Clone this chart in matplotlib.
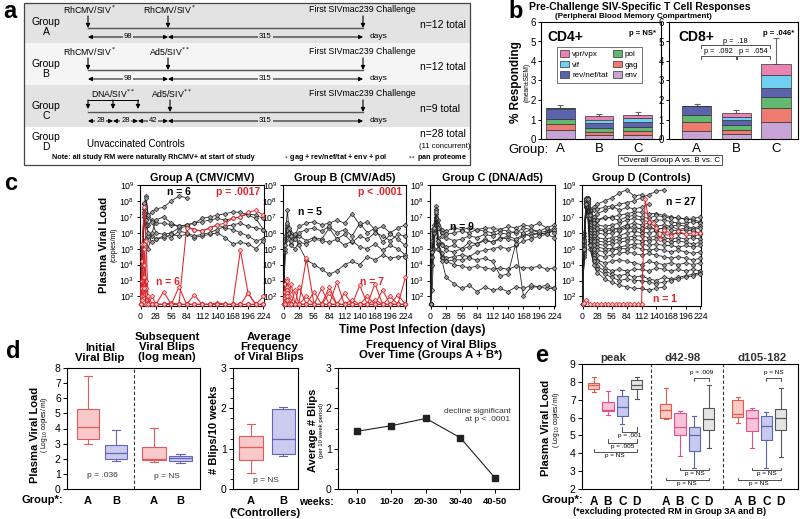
import matplotlib.pyplot as plt
import numpy as np
from matplotlib.patches import Rectangle, Patch

plt.rcParams['font.family'] = ['Liberation Sans', 'DejaVu Sans']
plt.rcParams['axes.linewidth'] = 0.8
plt.rcParams['xtick.major.width'] = 0.7
plt.rcParams['ytick.major.width'] = 0.7
plt.rcParams['xtick.major.size'] = 3
plt.rcParams['ytick.major.size'] = 3

# ---------------- panel b data ----------------
b_groups = ['A', 'B', 'C']
b_genes = ['env', 'gag', 'pol', 'rev/nef/tat', 'vif', 'vpr/vpx']
b_colors = ['#c7a3d6', '#ee7b70', '#62b86e', '#5b63ac', '#6fd0f2', '#ea82b4']
cd4_stack = [[0.45, 0.20, 0.20],   # env
             [0.30, 0.15, 0.22],   # gag
             [0.30, 0.20, 0.20],   # pol
             [0.50, 0.25, 0.25],   # rev/nef/tat
             [0.02, 0.20, 0.20],   # vif
             [0.02, 0.18, 0.18]]   # vpr/vpx
cd4_err_top = [1.75, 1.28, 1.37]
cd8_stack = [[0.40, 0.25, 0.87],
             [0.45, 0.20, 0.70],
             [0.40, 0.25, 0.57],
             [0.42, 0.30, 0.47],
             [0.02, 0.15, 0.65],
             [0.02, 0.18, 0.60]]
cd8_err_top = [1.82, 1.50, 5.20]

# ---------------- panel c data (log10 copies/ml) ----------------
c_t = [0, 3, 7, 10, 14, 21, 28, 42, 56, 70, 84, 98, 112, 126, 140, 154, 168, 182, 196, 210, 224]
grpA_black = [
    [1.5, 5.0, 7.8, 7.2, 6.5, 6.8, 6.6, 6.6, 6.5, 6.4, 6.5, 6.6, 6.7, 6.8, 6.9, 6.8, 6.9, 7.0, 7.2, 7.1, 6.9],
    [1.5, 4.5, 7.5, 8.3, 7.0, 6.7, 6.0, 5.9, 6.0, 6.3, 6.4, 6.2, 6.1, 6.3, 6.5, 6.3, 6.2, 6.0, 5.8, 5.5, 5.6],
    [1.5, 5.2, 7.9, 8.2, 7.1, 7.3, 7.5, 7.6, 8.0, 8.3, 8.2],
    [1.5, 4.8, 7.3, 6.5, 5.8, 5.4, 5.6, 5.7, 5.9, 5.8, 5.9, 5.7, 5.8, 5.9, 6.0, 5.7, 5.3, 5.4, 5.3, 5.0, 5.5],
    [1.5, 3.9, 7.0, 6.8, 6.0, 5.8, 5.6, 5.8, 5.7, 6.1, 6.0, 5.8, 5.9, 6.0, 6.2, 6.4, 6.5, 6.6, 6.4, 6.3, 6.2],
    [1.5, 4.0, 7.2, 5.6, 5.0, 6.0, 6.8, 7.0, 6.6, 6.4, 6.5, 6.6, 6.9, 7.0, 7.1, 7.2, 7.3, 7.3, 7.1, 6.9, 6.2],
]
grpA_red = [
    [1.5, 5.3, 7.6, 5.5, 1.5, 2.0, 1.5, 1.5, 1.5, 1.5, 6.3, 6.2, 6.1, 6.3, 6.5, 6.6, 6.9, 7.0, 7.3, 7.4, 7.1],
    [1.5, 4.2, 5.3, 3.0, 1.5, 1.5, 1.5, 2.3, 1.5, 2.6, 1.5, 1.5, 1.5, 1.5, 1.5, 1.5, 1.5, 4.9, 2.2, 1.5, 1.5],
    [1.5, 3.0, 5.0, 2.5, 2.0, 1.5, 1.5, 1.5, 1.5, 1.5, 1.5, 2.1, 1.5, 1.5, 1.6, 1.5, 1.5, 1.5, 2.2, 1.5, 2.0],
    [1.5, 2.5, 4.0, 1.8, 1.5, 1.5, 1.5, 1.5, 1.5, 1.5, 1.5, 1.5, 1.5, 1.5, 1.5, 1.5, 1.5, 1.5, 1.5, 1.5, 1.5],
    [1.5, 2.0, 3.2, 1.5, 1.5, 1.5, 1.5, 1.5, 1.6, 1.5, 1.5, 1.5, 1.5, 1.5, 1.5, 1.5, 1.5, 1.5, 1.5, 1.5, 1.5],
    [1.5, 1.8, 2.5, 1.5, 1.5, 1.5, 1.5, 1.5, 1.5, 1.5, 1.5, 1.5, 1.5, 1.5, 1.5, 1.5, 1.5, 1.5, 1.5, 1.5, 1.5],
]
grpB_black = [
    [1.5, 5.8, 7.4, 6.2, 6.0, 5.8, 6.4, 6.6, 6.7, 6.5, 6.6, 6.8, 6.6, 7.2, 6.5, 6.7, 6.2, 6.4, 6.0, 6.3, 6.5],
    [1.5, 5.5, 6.3, 5.8, 5.3, 5.6, 5.8, 5.5, 5.7, 5.6, 6.3, 5.6, 5.9, 5.4, 5.8, 5.6, 6.0, 5.8, 5.5, 5.9, 5.8],
    [1.5, 4.8, 6.5, 5.6, 5.2, 5.0, 5.4, 5.3, 5.6, 5.5, 5.4, 5.6, 5.2, 5.5, 5.1, 5.0, 5.3, 4.9, 5.2, 5.0, 4.6],
    [1.5, 5.0, 6.2, 6.0, 5.5, 5.9, 5.2, 4.3, 4.0, 3.7, 3.4, 3.6, 4.0, 4.2, 4.0, 4.5, 4.3, 4.6, 4.4, 4.5, 4.5],
    [1.5, 5.2, 6.6, 6.3, 5.8, 5.6, 6.0, 6.2, 6.3, 6.1, 6.4, 6.0, 6.2, 5.8, 6.6, 6.0, 6.3, 5.4, 5.9, 5.6, 5.2],
]
grpB_red = [
    [1.5, 2.8, 3.1, 2.3, 1.5, 1.5, 1.5, 4.4, 1.5, 2.5, 1.5, 2.9, 1.5, 1.5, 2.7, 1.5, 2.8, 1.5, 2.0, 1.5, 3.2],
    [1.5, 2.3, 3.0, 2.0, 2.8, 1.5, 2.6, 1.5, 1.5, 1.5, 2.6, 1.5, 1.5, 1.5, 1.5, 1.5, 1.5, 2.4, 1.5, 1.5, 1.5],
    [1.5, 2.0, 2.6, 1.8, 1.5, 2.4, 1.5, 1.5, 2.3, 1.5, 1.5, 1.5, 2.2, 1.5, 1.5, 2.0, 1.5, 1.5, 1.5, 2.1, 1.5],
    [1.5, 1.9, 2.4, 1.5, 1.5, 1.5, 1.5, 2.0, 1.5, 1.5, 2.2, 1.5, 1.5, 1.5, 1.5, 1.5, 1.8, 1.5, 1.5, 1.5, 1.5],
    [1.5, 1.7, 2.2, 1.5, 1.5, 1.5, 1.5, 1.5, 1.5, 1.5, 1.5, 1.5, 1.5, 1.8, 1.5, 1.5, 1.5, 1.5, 1.5, 1.5, 1.5],
    [1.5, 1.6, 2.0, 1.5, 1.5, 1.5, 1.5, 1.5, 1.5, 1.5, 1.5, 1.5, 1.5, 1.5, 1.5, 1.5, 1.5, 1.5, 1.5, 1.5, 1.5],
    [1.5, 1.5, 1.8, 1.5, 1.5, 1.5, 1.5, 1.5, 1.5, 1.5, 1.5, 1.5, 1.5, 1.5, 1.5, 1.5, 1.5, 1.5, 1.5, 1.5, 1.5],
]
grpC_black = [
    [1.5, 6.2, 5.0, 7.7, 6.8, 6.2, 6.1, 6.3, 6.2, 6.3, 6.2, 6.3, 6.3, 6.2, 6.4, 6.3, 6.5, 6.4, 6.6, 6.3, 6.5],
    [1.5, 2.4, 6.3, 7.2, 6.5, 6.0, 5.9, 6.0, 6.1, 6.0, 6.2, 6.1, 6.0, 6.2, 6.1, 6.0, 6.3, 6.2, 6.0, 6.1, 6.3],
    [1.5, 5.0, 6.5, 7.5, 5.7, 5.3, 5.1, 5.2, 5.0, 5.4, 5.3, 5.6, 5.4, 5.7, 5.6, 5.5, 5.8, 6.0, 5.9, 6.0, 6.1],
    [1.5, 4.5, 6.0, 6.8, 5.5, 5.2, 4.9, 4.8, 5.0, 5.1, 5.3, 5.5, 5.4, 5.6, 5.8, 5.6, 5.9, 5.8, 6.0, 5.9, 5.7],
    [1.5, 4.0, 6.1, 7.0, 5.3, 4.7, 4.4, 4.5, 4.6, 4.5, 4.8, 4.9, 5.0, 5.1, 5.0, 5.2, 5.5, 5.6, 5.8, 5.9, 6.2],
    [1.5, 5.5, 6.0, 7.4, 6.3, 5.8, 5.7, 5.5, 5.6, 5.8, 5.7, 5.9, 5.8, 6.0, 5.9, 6.1, 6.0, 6.2, 6.1, 6.3, 6.0],
    [1.5, 5.0, 6.2, 6.5, 5.0, 4.5, 4.2, 4.0, 3.9, 3.8, 3.9, 3.8, 3.7, 3.8, 3.7, 3.9, 3.8, 3.8, 3.9, 3.7, 3.8],
    [1.5, 4.5, 6.0, 6.9, 5.0, 4.4, 4.2, 4.3, 4.3, 4.4, 4.3, 4.4, 4.2, 3.3, 3.4, 5.3, 2.0, 2.6, 2.6, 2.5, 2.5],
    [1.5, 4.8, 6.3, 7.3, 5.5, 4.2, 3.2, 2.8, 2.5, 2.7, 2.3, 2.6, 2.4, 2.5, 2.3, 2.6, 2.5, 2.7, 2.6, 2.7, 2.5],
]
grpD_black = [
    [1.5, 5.5, 8.0, 8.2, 7.5, 7.6, 7.8, 8.0, 8.2, 8.5, 8.7, 8.3, 8.4],
    [1.5, 5.0, 7.8, 8.1, 7.3, 7.0, 7.2, 7.4, 7.6, 7.8, 7.9, 8.0, 8.2, 8.4, 8.6, 8.7],
    [1.5, 6.0, 8.1, 8.0, 7.4, 7.0, 6.8, 6.9, 7.0, 7.1, 7.2, 7.3, 7.3, 7.2, 7.2, 7.1, 7.0, 6.9, 6.9, 6.8, 6.7],
    [1.5, 5.2, 7.9, 8.2, 7.2, 6.8, 6.5, 6.4, 6.5, 6.6, 6.8, 6.9, 6.8, 6.7, 6.8, 6.8, 6.7, 6.6, 6.6, 6.7, 6.6],
    [1.5, 4.8, 8.0, 8.1, 7.0, 6.4, 6.2, 6.1, 6.2, 6.3, 6.5, 6.6, 6.5, 6.6, 6.4, 6.5, 6.4, 6.5, 6.4, 6.3, 6.4],
    [1.5, 5.8, 8.2, 7.8, 6.8, 6.2, 6.0, 5.9, 6.0, 6.1, 6.3, 6.4, 6.2, 6.3, 6.2, 6.3, 6.2, 6.1, 6.2, 6.1, 6.0],
    [1.5, 4.5, 7.6, 8.0, 6.6, 6.0, 5.7, 5.6, 5.7, 5.8, 6.0, 6.1, 6.0, 6.0, 6.1, 6.0, 5.9, 6.0, 5.9, 5.8, 5.9],
    [1.5, 5.0, 7.9, 7.9, 6.5, 5.8, 5.5, 5.4, 5.5, 5.6, 5.7, 5.8, 5.8, 5.7, 5.8, 5.7, 5.6, 5.7, 5.6, 5.7, 5.6],
    [1.5, 5.6, 8.0, 7.7, 6.3, 5.6, 5.3, 5.2, 5.3, 5.4, 5.5, 5.6, 5.5, 5.5, 5.6, 5.5, 5.4, 5.5, 5.4, 5.3, 5.4],
    [1.5, 4.9, 7.8, 7.8, 6.2, 5.5, 5.1, 5.0, 5.0, 5.1, 5.2, 5.3, 5.3, 5.2, 5.3, 5.2, 5.2, 5.1, 5.2, 5.1, 5.2],
    [1.5, 5.3, 8.1, 7.6, 6.0, 5.2, 4.9, 4.8, 4.9, 5.0, 5.0, 5.1, 5.0, 4.9, 5.0, 4.9, 4.8, 4.9, 4.8, 4.7, 4.8],
    [1.5, 5.1, 7.7, 7.5, 5.8, 5.0, 4.6, 4.5, 4.6, 4.7, 4.8, 4.7, 4.6, 4.7, 4.6, 4.5, 4.4, 4.5, 4.4, 4.3, 4.4],
    [1.5, 4.6, 7.9, 7.4, 5.6, 4.7, 4.3, 4.1, 4.2, 4.3, 4.2, 4.1, 4.0, 4.2, 4.1, 4.0, 4.1, 4.0, 4.1, 4.0, 4.1],
    [1.5, 5.4, 8.0, 7.3, 5.5, 4.6, 4.2, 3.8, 3.6, 3.7, 3.6, 3.7, 3.7, 3.6, 3.8, 3.7, 3.6, 3.7, 3.6, 3.7, 3.6],
    [1.5, 4.7, 7.8, 7.2, 5.3, 4.4, 3.9, 3.6, 3.4, 3.3, 3.4, 3.2, 3.3, 3.1, 3.0, 3.2, 3.1, 3.2, 3.3, 3.4, 3.5],
    [1.5, 5.0, 7.6, 7.0, 5.0, 4.2, 3.7, 3.4, 3.2, 3.0, 3.1, 3.0, 3.0, 2.9, 2.8, 2.9, 3.0, 3.1, 3.2, 3.3, 3.4],
    [1.5, 4.9, 7.9, 7.1, 5.2, 4.0, 3.5, 3.1, 2.9, 2.7, 2.6, 2.5, 2.5, 2.4, 2.5, 2.6],
    [1.5, 5.2, 8.0, 7.9, 7.2, 7.4, 7.5, 7.6, 7.7, 7.4, 7.6, 7.5, 7.6, 7.8],
    [1.5, 5.5, 8.1, 8.0, 6.9, 6.6, 6.8, 7.0, 6.9, 6.8, 7.0, 7.1, 7.0, 6.9, 7.1, 7.0, 6.9, 7.0, 6.8, 6.9, 7.0],
    [1.5, 5.0, 7.8, 8.1, 7.1, 6.6, 6.3, 6.2, 6.3, 6.2, 6.4, 6.2, 6.3, 6.4, 6.2, 6.3, 6.4, 6.2, 6.3, 6.2, 6.3],
]
grpD_red_t = [0, 3, 7, 14, 21, 28, 35, 42, 49, 56, 63, 70, 77, 84, 91, 98, 105, 112,
              119, 126, 133, 140, 147, 154, 161, 168, 182, 196, 210, 224]
grpD_red = [1.5, 1.6, 1.8, 1.5, 1.5, 1.5, 1.5, 1.5, 1.5, 1.5, 1.5, 1.5, 1.5, 1.5, 1.5, 1.5, 1.5, 1.5,
            8.1, 6.7, 6.6, 6.3, 5.6, 6.2, 6.0, 5.8, 6.1, 5.9, 6.0, 6.0]

# ---------------- panel d data (box stats: low, q1, median, q3, high) ----------------
d_blip_stats = [[2.95, 3.28, 4.10, 5.30, 7.50],   # initial A
                [1.85, 1.98, 2.35, 2.93, 3.90],   # initial B
                [1.80, 1.90, 2.00, 2.75, 4.05],   # subsequent A
                [1.75, 1.88, 2.02, 2.15, 2.30]]   # subsequent B
d_freq_stats = [[0.40, 0.73, 1.03, 1.32, 1.62],
                [0.82, 0.87, 1.23, 1.98, 2.03]]
d_weeks = ['0-10', '10-20', '20-30', '30-40', '40-50']
d_avg_blips = [1.43, 1.57, 1.75, 1.27, 0.28]

# ---------------- panel e data ----------------
e_periods = ['peak', 'd42-98', 'd105-182']
e_groups = ['A', 'B', 'C', 'D']
e_stats = [[[7.45, 7.60, 7.80, 7.95, 8.30], [6.15, 6.35, 6.45, 6.85, 7.50],
            [5.65, 6.10, 6.60, 7.20, 7.55], [7.05, 7.60, 7.85, 8.10, 8.25]],
           [[5.90, 6.00, 6.40, 6.75, 7.65], [3.85, 5.00, 5.50, 6.25, 6.35],
            [3.15, 4.15, 5.00, 5.45, 6.10], [4.30, 5.30, 5.90, 6.55, 7.80]],
           [[5.70, 6.05, 6.20, 7.00, 7.15], [4.30, 5.25, 6.00, 6.40, 6.55],
            [3.20, 4.75, 5.55, 6.10, 6.30], [3.80, 5.30, 6.00, 6.50, 7.65]]]

W, H = 800, 519
fig = plt.figure(figsize=(8, 5.19), dpi=100)


def pxax(x0, y0, x1, y1, **kw):
    return fig.add_axes([x0 / W, 1 - y1 / H, (x1 - x0) / W, (y1 - y0) / H], **kw)


ov = pxax(0, 0, W, H)
ov.set_xlim(0, W)
ov.set_ylim(H, 0)
ov.axis('off')


def down_arrow(x, y0, y1):
    ov.annotate('', xy=(x, y1), xytext=(x, y0),
                arrowprops=dict(arrowstyle='-|>', color='k', lw=0.8, mutation_scale=6,
                                shrinkA=0, shrinkB=0))


def dim_arrow(x0, x1, y, label, bg):
    ov.annotate('', xy=(x1, y), xytext=(x0, y),
                arrowprops=dict(arrowstyle='<|-|>', color='k', lw=0.7, mutation_scale=6,
                                shrinkA=0, shrinkB=0))
    ov.text((x0 + x1) / 2, y, label, fontsize=5.5, ha='center', va='center',
            bbox=dict(facecolor=bg, edgecolor='none', pad=0.6))


# ================= panel a =================
ov.text(3, 12, 'a', fontsize=17, fontweight='bold', va='center')
band_y = [3, 43, 85, 127, 165]
band_cols = ['#e3e3e3', '#f5f5f5', '#e3e3e3', '#ffffff']
for i in range(4):
    ov.add_patch(Rectangle((24, band_y[i]), 446, band_y[i + 1] - band_y[i],
                           facecolor=band_cols[i], edgecolor='none'))
ov.add_patch(Rectangle((24, 3), 446, 162, fill=False, edgecolor='#444', lw=0.9))

for g, yc in zip(['A', 'B', 'C', 'D'], [27, 69, 111, 142]):
    ov.text(46, yc, 'Group\n' + g, fontsize=7.5, ha='center', va='center',
            linespacing=1.05)

rows_top = [3, 45, 87]
vacc = [[('RhCMV/SIV$^*$', 88), ('RhCMV/SIV$^*$', 168)],
        [('RhCMV/SIV$^*$', 88), ('Ad5/SIV$^{**}$', 168)],
        [('Ad5/SIV$^{**}$', 170)]]
for i in range(3):
    y0 = rows_top[i]
    for lab, x in vacc[i]:
        ov.text(x + 2, y0 + 7, lab, fontsize=6.3, ha='center', va='center')
    ov.text(362, y0 + 7, 'First SIVmac239 Challenge', fontsize=6.3, ha='center', va='center')
    ov.plot([88, 363], [y0 + 25, y0 + 25], color='#555', lw=1.0)
    for _, x in vacc[i]:
        down_arrow(x, y0 + 13, y0 + 25)
    down_arrow(363, y0 + 13, y0 + 25)
    ov.text(370, y0 + 34, 'days', fontsize=6, va='center')
    ov.text(420, y0 + 22, ['n=12 total', 'n=12 total', 'n=9 total'][i], fontsize=7.5,
            va='center')
dim_arrow(88, 168, 37, '98', band_cols[0])
dim_arrow(168, 363, 37, '315', band_cols[0])
dim_arrow(88, 168, 79, '98', band_cols[1])
dim_arrow(168, 363, 79, '315', band_cols[1])
# group C DNA primes
ov.text(113, 94, 'DNA/SIV$^{**}$', fontsize=6.3, ha='center', va='center')
ov.plot([88, 138], [100, 100], color='k', lw=0.7)
for x in [88, 113, 138]:
    down_arrow(x, 100, 109)
dim_arrow(88, 113, 121, '28', band_cols[2])
dim_arrow(113, 138, 121, '28', band_cols[2])
dim_arrow(138, 168, 121, '42', band_cols[2])
dim_arrow(168, 363, 121, '315', band_cols[2])
# group D
ov.text(87, 144, 'Unvaccinated Controls', fontsize=7, va='center')
ov.text(443, 134, 'n=28 total', fontsize=7.5, ha='center', va='center')
ov.text(445, 146, '(11 concurrent)', fontsize=5.5, ha='center', va='center')
ov.text(52, 157.5, 'Note: all study RM were naturally RhCMV+ at start of study', fontsize=5.2,
        fontweight='bold', va='center')
ov.text(283, 157.5, '$_*$ gag + rev/nef/tat + env + pol', fontsize=5.2, fontweight='bold',
        va='center')
ov.text(408, 157.5, '$_{**}$ pan proteome', fontsize=5.2, fontweight='bold', va='center')

# ================= panel b =================
ov.text(508, 12, 'b', fontsize=17, fontweight='bold', va='center')
ov.text(640, 6.5, 'Pre-Challenge SIV-Specific T Cell Responses', fontsize=7.5,
        fontweight='bold', ha='center', va='center')
ov.text(633, 16, '(Peripheral Blood Memory Compartment)', fontsize=5.8, fontweight='bold',
        ha='center', va='center')
ax4 = pxax(541, 22, 661, 139)
ax8 = pxax(669, 22, 798, 139)
xb = np.arange(3)
for ax, stack, err, xl in [(ax4, cd4_stack, cd4_err_top, (-0.5, 2.6)),
                           (ax8, cd8_stack, cd8_err_top, (-0.7, 2.55))]:
    bottom = np.zeros(3)
    for vals, col in zip(stack, b_colors):
        ax.bar(xb, vals, 0.74, bottom=bottom, color=col, edgecolor='#333', lw=0.5, zorder=2)
        bottom += np.array(vals)
    ax.errorbar(xb, bottom, yerr=[np.zeros(3), np.array(err) - bottom], fmt='none',
                ecolor='#666', elinewidth=0.8, capsize=2.2, capthick=0.8, zorder=1)
    ax.set_xlim(*xl)
    ax.set_ylim(0, 6)
    ax.set_yticks(range(7))
    ax.tick_params(axis='y', labelsize=7, pad=1, length=2.5)
    ax.set_xticks(xb)
    ax.set_xticklabels(b_groups, fontsize=9.5)
    ax.tick_params(axis='x', length=0, pad=3)
ax4.text(0.05, 0.93, 'CD4+', transform=ax4.transAxes, fontsize=10, fontweight='bold',
         va='top')
ax4.text(0.96, 0.93, 'p = NS*', transform=ax4.transAxes, fontsize=5.5, fontweight='bold',
         va='top', ha='right')
ax8.text(0.07, 0.93, 'CD8+', transform=ax8.transAxes, fontsize=10, fontweight='bold',
         va='top')
ax8.text(0.97, 0.93, 'p = .046*', transform=ax8.transAxes, fontsize=5.5, fontweight='bold',
         va='top', ha='right')


def bracket(ax, x0, x1, y, tick, label, ty, fs):
    ax.plot([x0, x0, x1, x1], [y + tick, y, y, y + tick], color='#333', lw=0.6,
            clip_on=False)
    ax.text((x0 + x1) / 2, ty, label, fontsize=fs, ha='center', va='center', clip_on=False)


bracket(ax8, 0.1, 1.85, 4.8, -0.15, 'p =  .18', 5.0, 5.3)
bracket(ax8, 0.1, 0.98, 4.25, -0.15, 'p =  .092', 4.5, 5.3)
bracket(ax8, 1.02, 1.85, 4.25, -0.15, 'p =  .054', 4.5, 5.3)

handles = [Patch(facecolor=b_colors[i], edgecolor='#333', lw=0.5) for i in [5, 4, 3, 2, 1, 0]]
leg = ax4.legend(handles, [b_genes[i] for i in [5, 4, 3, 2, 1, 0]], ncol=2, fontsize=5.8,
                 loc='upper left', bbox_to_anchor=(0.13, 0.79), frameon=True,
                 fancybox=False, handlelength=1.1, handleheight=0.9, columnspacing=0.6,
                 handletextpad=0.4, labelspacing=0.3, borderpad=0.45, borderaxespad=0)
leg.get_frame().set_edgecolor('#333')
leg.get_frame().set_linewidth(0.6)
ov.text(516, 82, '% Responding', rotation=90, fontsize=8.5, fontweight='bold',
        ha='center', va='center')
ov.text(527, 82, '(mean±SEM)', rotation=90, fontsize=4.8, ha='center', va='center')
ov.text(508, 150, 'Group:', fontsize=9.5, va='center')
ov.text(670, 160, '*Overall Group A vs. B vs. C', fontsize=5.8, ha='center', va='center',
        bbox=dict(facecolor='white', edgecolor='#333', lw=0.6, pad=1.2))

# ================= panel c =================
ov.text(4, 183, 'c', fontsize=17, fontweight='bold', va='center')
c_axes = [pxax(140, 185, 264, 306), pxax(283, 185, 406, 306),
          pxax(430, 185, 555, 306), pxax(582, 185, 701, 306)]
c_titles = ['Group A (CMV/CMV)', 'Group B (CMV/Ad5)', 'Group C (DNA/Ad5)',
            'Group D (Controls)']
c_black = [grpA_black, grpB_black, grpC_black, grpD_black]
c_red = [grpA_red, grpB_red, [], []]
RED = '#e0242b'
for ax, ttl, blk, red in zip(c_axes, c_titles, c_black, c_red):
    for v in blk:
        ax.plot(c_t[:len(v)], 10 ** np.array(v), color='#222', lw=0.6, marker='D', ms=2.4,
                mfc='#9c9c9c', mec='#222', mew=0.45, clip_on=False, zorder=3)
    for v in red:
        ax.plot(c_t[:len(v)], 10 ** np.array(v), color=RED, lw=0.75, marker='D', ms=2.4,
                mfc='#f6c4c4', mec=RED, mew=0.5, clip_on=False, zorder=4)
    ax.set_yscale('log')
    ax.set_ylim(10 ** 1.4, 1e9)
    ax.set_yticks([10 ** k for k in range(2, 10)])
    ax.yaxis.set_minor_locator(plt.NullLocator())
    ax.set_xlim(-1, 225)
    ax.set_xticks(range(0, 225, 28))
    ax.tick_params(labelsize=6.3, pad=1.5, length=2.5)
    ax.set_title(ttl, fontsize=7.8, fontweight='bold', pad=3)
c_axes[3].plot(grpD_red_t, 10 ** np.array(grpD_red), color=RED, lw=0.75, marker='D', ms=2.4,
               mfc='#f6c4c4', mec=RED, mew=0.5, clip_on=False, zorder=4)
c_axes[0].text(0.22, 0.94, 'n = 6', transform=c_axes[0].transAxes, fontsize=7.5,
               fontweight='bold', va='center')
c_axes[0].text(0.97, 0.94, 'p = .0017', transform=c_axes[0].transAxes, fontsize=7.5,
               fontweight='bold', color=RED, ha='right', va='center')
c_axes[0].text(0.13, 0.2, 'n = 6', transform=c_axes[0].transAxes, fontsize=7.5,
               fontweight='bold', color=RED, va='center')
c_axes[1].text(0.12, 0.78, 'n = 5', transform=c_axes[1].transAxes, fontsize=7.5,
               fontweight='bold', va='center')
c_axes[1].text(0.97, 0.94, 'p < .0001', transform=c_axes[1].transAxes, fontsize=7.5,
               fontweight='bold', color=RED, ha='right', va='center')
c_axes[1].text(0.63, 0.2, 'n = 7', transform=c_axes[1].transAxes, fontsize=7.5,
               fontweight='bold', color=RED, va='center')
c_axes[2].text(0.16, 0.65, 'n = 9', transform=c_axes[2].transAxes, fontsize=7.5,
               fontweight='bold', va='center')
c_axes[3].text(0.96, 0.86, 'n = 27', transform=c_axes[3].transAxes, fontsize=7.5,
               fontweight='bold', ha='right', va='center')
c_axes[3].text(0.6, 0.06, 'n = 1', transform=c_axes[3].transAxes, fontsize=7.5,
               fontweight='bold', color=RED, va='center')
ov.text(104, 245, 'Plasma Viral Load', rotation=90, fontsize=8, fontweight='bold',
        ha='center', va='center')
ov.text(114, 245, '(copies/ml)', rotation=90, fontsize=5, ha='center', va='center')
ov.text(412, 330, 'Time Post Infection (days)', fontsize=8.5, fontweight='bold',
        ha='center', va='center')


# ================= boxes helper =================
def draw_box(ax, stats, pos, width, face, edge):
    s = dict(whislo=stats[0], q1=stats[1], med=stats[2], q3=stats[3], whishi=stats[4],
             fliers=[])
    ax.bxp([s], positions=[pos], widths=width, patch_artist=True, showfliers=False,
           boxprops=dict(facecolor=face, edgecolor=edge, lw=0.8),
           medianprops=dict(color=edge, lw=0.9),
           whiskerprops=dict(color=edge, lw=0.8),
           capprops=dict(color=edge, lw=0.8), capwidths=width * 0.35)


D_COLS = [('#f9c9c9', '#e05b60'), ('#cbcbef', '#6565b7')]

# ================= panel d =================
ov.text(6, 352, 'd', fontsize=17, fontweight='bold', va='center')
d1 = pxax(67, 368, 200, 489)
d1_pos = [0.75, 1.75, 3.1, 4.05]
for k, st in enumerate(d_blip_stats):
    draw_box(d1, st, d1_pos[k], 0.78 if k < 2 else 0.85, *D_COLS[k % 2])
d1.axvline(2.4, color='#333', lw=0.8, ls=(0, (3, 2)))
d1.set_xlim(0, 4.75)
d1.set_ylim(0, 8)
d1.set_yticks(range(9))
d1.set_xticks(d1_pos)
d1.set_xticklabels(['A', 'B', 'A', 'B'], fontsize=8, fontweight='bold')
d1.tick_params(axis='x', length=0, pad=5)
d1.tick_params(axis='y', labelsize=7.5, pad=1.5, length=3)
d1.text(1.25, 0.9, 'p = .036', fontsize=6, ha='center', va='center', color='#333')
d1.text(3.55, 0.85, 'p = NS', fontsize=6, ha='center', va='center', color='#333')
ov.text(100, 353, 'Initial\nViral Blip', fontsize=8.2, fontweight='bold', ha='center',
        va='center', linespacing=1.0)
ov.text(167, 347, 'Subsequent\nViral Blips\n(log mean)', fontsize=8.2, fontweight='bold',
        ha='center', va='center', linespacing=1.0)
ov.text(35, 435, 'Plasma Viral Load', rotation=90, fontsize=8, fontweight='bold',
        ha='center', va='center')
ov.text(45, 425, '( Log$_{10}$ copies/ ml)', rotation=90, fontsize=4.8, ha='center',
        va='center')
ov.text(22, 500, 'Group*:', fontsize=8, fontweight='bold', va='center')

d2 = pxax(233, 368, 298, 489)
for k, st in enumerate(d_freq_stats):
    draw_box(d2, st, k, 0.72, *D_COLS[k])
d2.set_xlim(-0.55, 1.45)
d2.set_ylim(0, 3)
d2.set_yticks(range(4))
d2.set_yticks(np.arange(0, 3.01, 0.25), minor=True)
d2.set_xticks([0, 1])
d2.set_xticklabels(['A', 'B'], fontsize=8, fontweight='bold')
d2.tick_params(axis='x', length=0, pad=5)
d2.tick_params(axis='y', labelsize=7.5, pad=1.5, length=3)
d2.tick_params(axis='y', which='minor', length=2)
d2.text(0.45, 0.2, 'p = NS', fontsize=6, ha='center', va='center', color='#333')
ov.text(269, 347, 'Average\nFrequency\nof Viral Blips', fontsize=8.2, fontweight='bold',
        ha='center', va='center', linespacing=1.0)
ov.text(214, 430, '# Blips/10 weeks', rotation=90, fontsize=8, fontweight='bold',
        ha='center', va='center')
ov.text(265, 513, '(*Controllers)', fontsize=8, fontweight='bold', ha='center', va='center')

d3 = pxax(338, 368, 519, 489)
xw = np.arange(len(d_weeks))
d3.plot(xw, d_avg_blips, color='#222', lw=0.8, marker='s', ms=4.2, mfc='#222', mec='#222')
d3.set_xlim(-0.55, 4.7)
d3.set_ylim(0, 3)
d3.set_yticks(range(4))
d3.set_yticks(np.arange(0, 3.01, 0.5), minor=True)
d3.set_xticks(xw)
d3.set_xticklabels(d_weeks, fontsize=6.8, fontweight='bold')
d3.tick_params(axis='x', pad=3, length=3)
d3.tick_params(axis='y', labelsize=7.5, pad=1.5, length=3)
d3.tick_params(axis='y', which='minor', length=2)
d3.text(4.45, 1.82, 'decline significant\nat p < .0001', fontsize=6, ha='right',
        va='center', color='#333', linespacing=1.2)
ov.text(431, 350, 'Frequency of Viral Blips\nOver Time (Groups A + B*)', fontsize=8.2,
        fontweight='bold', ha='center', va='center', linespacing=1.0)
ov.text(313, 430, 'Average # Blips', rotation=90, fontsize=8, fontweight='bold',
        ha='center', va='center')
ov.text(322, 430, '(per 10 week period)', rotation=90, fontsize=4.3, ha='center',
        va='center')
ov.text(334, 502, 'weeks:', fontsize=7.5, fontweight='bold', ha='right', va='center')

# ================= panel e =================
ov.text(535, 355, 'e', fontsize=17, fontweight='bold', va='center')
ea = pxax(582, 364, 798, 489)
E_COLS = [('#f9cbc3', '#e2594c'), ('#f7c4d8', '#e0508e'), ('#c7caee', '#5a63b5'),
          ('#e5e5e5', '#555555')]
e_pos = []
for p, per in enumerate(e_stats):
    for g, st in enumerate(per):
        pos = p * 5 + g + 1
        e_pos.append(pos)
        draw_box(ea, st, pos, 0.8, *E_COLS[g])
for xd in [5, 10]:
    ea.axvline(xd, color='#333', lw=0.8, ls=(0, (3, 2)))
ea.set_xlim(0.2, 15.2)
ea.set_ylim(2, 9)
ea.set_yticks(range(2, 10))
ea.set_xticks(e_pos)
ea.set_xticklabels(e_groups * 3, fontsize=8.5, fontweight='bold')
ea.tick_params(axis='x', length=0, pad=5)
ea.tick_params(axis='y', labelsize=7.5, pad=1.5, length=3)
for p, per in enumerate(e_periods):
    ov.text([613, 683, 762][p], 358, per, fontsize=8.2, fontweight='bold', ha='center',
            va='center', color='#333')
# p-value brackets
bracket(ea, 3, 4, 5.2, 0.25, 'p = .001', 4.97, 4.6)
bracket(ea, 2, 4, 4.58, 0.22, 'p = .005', 4.38, 4.6)
bracket(ea, 1, 4, 4.08, 0.15, 'p = NS', 3.88, 4.6)
bracket(ea, 8, 9, 8.2, -0.15, 'p = .009', 8.5, 4.6)
bracket(ea, 13, 14, 8.2, -0.15, 'p = NS', 8.5, 4.6)
for base in [5, 10]:
    bracket(ea, base + 2, base + 4, 3.04, 0.16, 'p = NS', 2.84, 4.6)
    bracket(ea, base + 1, base + 4, 2.48, 0.14, 'p = NS', 2.3, 4.6)
ov.text(546, 428, 'Plasma Viral Load', rotation=90, fontsize=8, fontweight='bold',
        ha='center', va='center')
ov.text(556, 420, '( Log$_{10}$ copies/ ml)', rotation=90, fontsize=4.8, ha='center',
        va='center')
ov.text(583, 500, 'Group*:', fontsize=8, fontweight='bold', ha='right', va='center')
ov.text(670, 511, '(*excluding protected RM in Group 3A and B)', fontsize=6.5,
        fontweight='bold', ha='center', va='center')

plt.savefig('out.png', dpi=100)
